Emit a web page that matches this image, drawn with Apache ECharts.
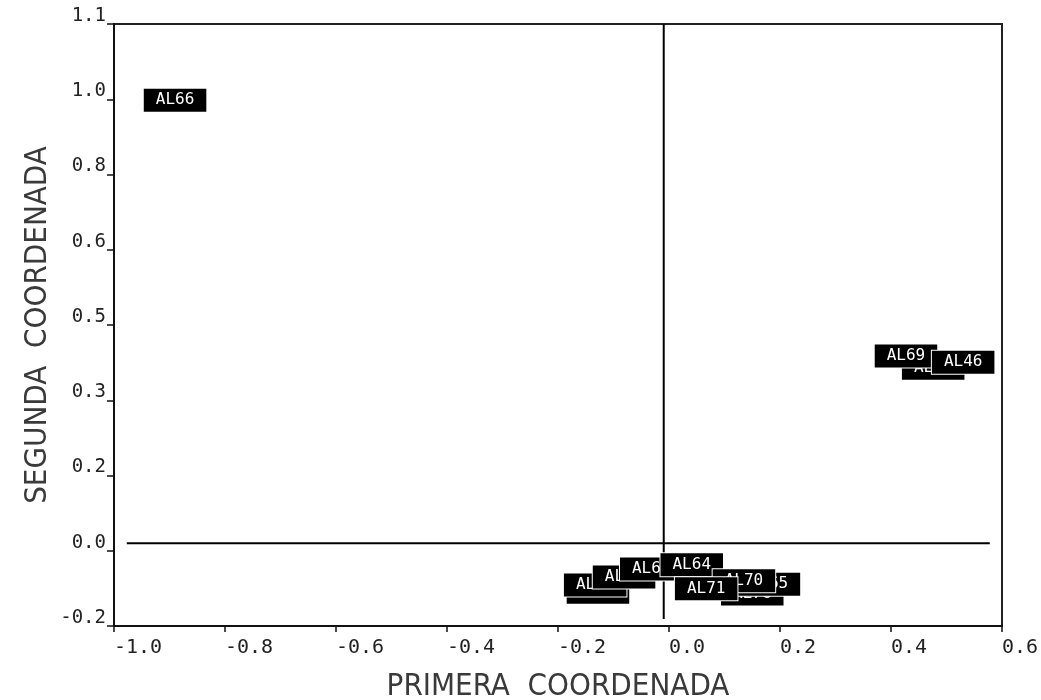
<!DOCTYPE html>
<html>
<head>
<meta charset="utf-8">
<script src="https://cdn.jsdelivr.net/npm/echarts@6/dist/echarts.min.js"></script>
<style>html,body{margin:0;padding:0;background:#fff}#c{width:1041px;height:700px}</style>
</head>
<body>
<div id="c"></div>
<script>
// ---- data ----
const pointNames = ['AL66','AL45','AL69','AL46','AL50','AL47','AL48','AL67','AL64','AL76','AL65','AL70','AL71'];
const pointX     = [-0.890, 0.476, 0.427, 0.530, -0.128, -0.133, -0.081, -0.032, 0.041, 0.150, 0.180, 0.135, 0.067];
const pointY     = [ 0.958, 0.388, 0.414, 0.401, -0.088, -0.073, -0.056, -0.039, -0.030, -0.092, -0.071, -0.064, -0.081];
const xTickLabels = ['-1.0','-0.8','-0.6','-0.4','-0.2','0.0','0.2','0.4','0.6'];
const yTickLabels = ['-0.2','0.0','0.2','0.3','0.5','0.6','0.8','1.0','1.1'];
const vRefX = [-0.0095, -0.0095];
const vRefY = [1.12, -0.145];
const hRefX = [-0.977, 0.578];
const hRefY = [0.0157, 0.0157];
const xName = 'PRIMERA  COORDENADA';
const yName = 'SEGUNDA  COORDENADA';

const chart = echarts.init(document.getElementById('c'), null, {renderer:'canvas'});
const pts = pointNames.map((n,i)=>({name:n, value:[pointX[i], pointY[i]]}));
const nameFont = {fontFamily:'"DejaVu Sans Condensed", "DejaVu Sans", sans-serif', fontSize:31, color:'#3a3a3a', fontWeight:'normal'};
chart.setOption({
  animation:false,
  backgroundColor:'#fff',
  grid:{left:114, top:24, width:888, height:602, containLabel:false, outerBoundsMode:'none',
    show:true, borderColor:'#222', borderWidth:2, backgroundColor:'transparent'},
  xAxis:{
    type:'value', min:-1.0, max:0.6, interval:0.2,
    name:xName, nameLocation:'middle', nameGap:45, nameMoveOverlap:false,
    nameTextStyle:nameFont,
    axisLine:{show:true, onZero:false, lineStyle:{color:'#111', width:2}},
    axisTick:{show:true, length:6, lineStyle:{color:'#111', width:1.5}},
    axisLabel:{align:'left', margin:12, fontFamily:'DejaVu Sans Mono', fontSize:20, color:'#222',
      formatter:(v,i)=>xTickLabels[i] ?? ''},
    splitLine:{show:false}
  },
  yAxis:{
    type:'value', min:-0.16, max:1.12, interval:0.16,
    name:yName, nameLocation:'middle', nameGap:61, nameRotate:90, nameMoveOverlap:false,
    nameTextStyle:nameFont,
    axisLine:{show:true, onZero:false, lineStyle:{color:'#111', width:2}},
    axisTick:{show:true, length:7, lineStyle:{color:'#111', width:1.5}},
    axisLabel:{verticalAlign:'bottom', lineHeight:16, margin:8, fontFamily:'DejaVu Sans Mono', fontSize:19, color:'#222',
      formatter:(v,i)=>yTickLabels[i] ?? ''},
    splitLine:{show:false}
  },
  series:[
    {type:'line', data:vRefX.map((x,i)=>[x, vRefY[i]]), symbol:'none', lineStyle:{color:'#000', width:2}, z:1, silent:true},
    {type:'line', data:hRefX.map((x,i)=>[x, hRefY[i]]), symbol:'none', lineStyle:{color:'#000', width:2}, z:1, silent:true},
    {type:'scatter', data:pts, symbolSize:1, itemStyle:{color:'rgba(0,0,0,0)', opacity:1}, z:3, silent:true,
      label:{show:true, position:'inside', formatter:p=>p.name, color:'#fff', backgroundColor:'#000', opacity:1,
        borderColor:'#fff', borderWidth:1, padding:[3,12,3,12], lineHeight:17,
        fontFamily:'DejaVu Sans Mono', fontSize:16},
      labelLayout:{hideOverlap:false}
    }
  ]
});
</script>
</body>
</html>
